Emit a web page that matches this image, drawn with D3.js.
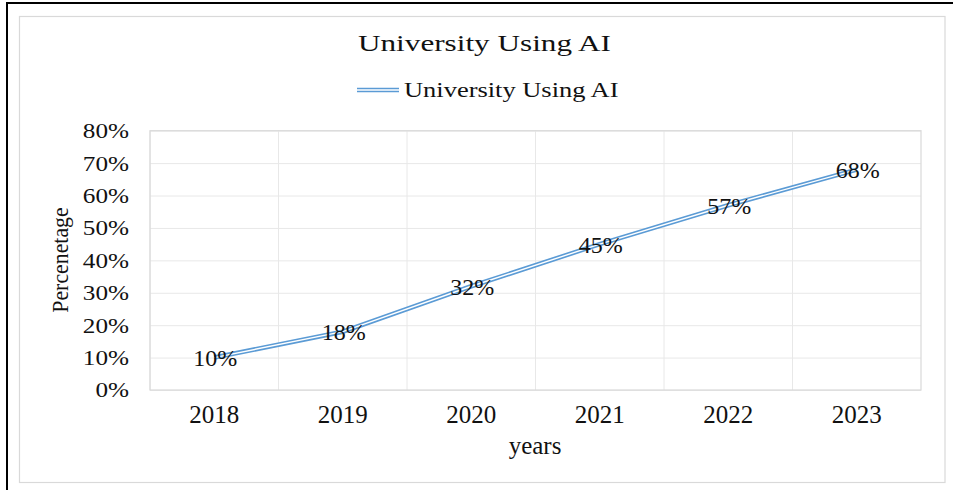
<!DOCTYPE html>
<html>
<head>
<meta charset="utf-8">
<script src="https://cdn.jsdelivr.net/npm/d3@7"></script>
<style>
  html, body { margin: 0; padding: 0; background: #fff; }
  svg { display: block; }
  text { font-family: "Liberation Serif", "Times New Roman", serif; fill: #111; }
</style>
</head>
<body>
<svg id="chart" width="953" height="490"></svg>
<script>
// ---- data ----
const categories = ["2018", "2019", "2020", "2021", "2022", "2023"];
const values = [10, 18, 32, 45, 57, 68];
const yTickValues = [0, 10, 20, 30, 40, 50, 60, 70, 80];
const seriesName = "University Using AI";
const chartTitle = "University Using AI";
const xTitle = "years";
const yTitle = "Percenetage";

// ---- layout ----
const W = 953, H = 490;
const plot = { left: 150, right: 921, top: 130.7, bottom: 390 };
const lineColor = "#5B9BD5";
const gridColor = "#e8e8e8";

const svg = d3.select("#chart");

// outer black frame (cropped at right/bottom)
svg.append("rect").attr("x", 7).attr("y", 3).attr("width", W + 10).attr("height", H + 10)
  .attr("fill", "#fff").attr("stroke", "#000").attr("stroke-width", 2);
// inner light frame
svg.append("rect").attr("x", 19.5).attr("y", 16.5).attr("width", 925.5).attr("height", 466)
  .attr("fill", "#fff").attr("stroke", "#d9d9d9").attr("stroke-width", 1.2);

const x = d3.scaleBand().domain(categories).range([plot.left, plot.right]);
const y = d3.scaleLinear().domain([0, 80]).range([plot.bottom, plot.top]);
const cx = d => x(d) + x.bandwidth() / 2;

// gridlines (horizontal) via axis
const gy = svg.append("g").attr("transform", `translate(${plot.left},0)`)
  .call(d3.axisLeft(y).tickValues(yTickValues).tickSize(-(plot.right - plot.left)).tickFormat(""));
gy.select(".domain").remove();
gy.selectAll("line").attr("stroke", gridColor).attr("stroke-width", 1);

// vertical gridlines at category boundaries
const gx = svg.append("g").attr("transform", `translate(0,${plot.bottom})`)
  .call(d3.axisBottom(x).tickSize(-(plot.bottom - plot.top)).tickFormat(""));
gx.select(".domain").remove();
gx.selectAll(".tick").attr("transform", d => `translate(${x(d)},0)`);
gx.selectAll("line").attr("stroke", gridColor).attr("stroke-width", 1);

// plot border
svg.append("rect").attr("x", plot.left).attr("y", plot.top)
  .attr("width", plot.right - plot.left).attr("height", plot.bottom - plot.top)
  .attr("fill", "none").attr("stroke", "#d9d9d9").attr("stroke-width", 1.2);

// y tick labels
const yLabSx = 1.2;
const ya = svg.append("g").attr("transform", `translate(${plot.left},0)`)
  .call(d3.axisLeft(y).tickValues(yTickValues).tickSize(0).tickFormat(d => d + "%"));
ya.select(".domain").remove();
ya.selectAll("text")
  .attr("x", -21 / yLabSx).attr("dy", "0.33em")
  .attr("transform", `scale(${yLabSx},1)`)
  .style("font-size", "21px").style("font-family", "Liberation Serif").attr("fill", "#111");

// x tick labels
const xa = svg.append("g").attr("transform", `translate(0,${plot.bottom})`)
  .call(d3.axisBottom(x).tickSize(0));
xa.select(".domain").remove();
xa.selectAll("text").attr("y", 33).attr("dy", 0)
  .style("font-size", "25px").style("font-family", "Liberation Serif").attr("fill", "#111");

// line (double compound line)
const line = d3.line().x((d, i) => cx(categories[i])).y(d => y(d));
svg.append("path").datum(values).attr("d", line)
  .attr("fill", "none").attr("stroke", lineColor).attr("stroke-width", 4.6);
svg.append("path").datum(values).attr("d", line)
  .attr("fill", "none").attr("stroke", "#fff").attr("stroke-width", 1.4);

// data labels
svg.append("g").selectAll("text").data(values).join("text")
  .attr("x", (d, i) => cx(categories[i]) + 1)
  .attr("y", d => y(d))
  .attr("dy", "0.35em")
  .attr("text-anchor", "middle")
  .style("font-size", "24px")
  .text(d => d + "%");

// title
function stretchedText(g, txt, x0, y0, size, sx, anchor) {
  return g.append("text")
    .attr("transform", `translate(${x0},${y0}) scale(${sx},1)`)
    .attr("text-anchor", anchor || "middle")
    .style("font-size", size + "px")
    .text(txt);
}
stretchedText(svg, chartTitle, 484.5, 51, 24, 1.3);

// legend
svg.append("line").attr("x1", 357).attr("x2", 399).attr("y1", 90).attr("y2", 90)
  .attr("stroke", lineColor).attr("stroke-width", 4.6);
svg.append("line").attr("x1", 357).attr("x2", 399).attr("y1", 90).attr("y2", 90)
  .attr("stroke", "#fff").attr("stroke-width", 1.4);
stretchedText(svg, seriesName, 404, 97, 21, 1.26, "start");

// axis titles
svg.append("text").attr("x", 535).attr("y", 454).attr("text-anchor", "middle")
  .style("font-size", "25px").text(xTitle);
svg.append("text")
  .attr("transform", `translate(68,260) rotate(-90) scale(0.91,1)`)
  .attr("text-anchor", "middle")
  .style("font-size", "24px").text(yTitle);
</script>
</body>
</html>
